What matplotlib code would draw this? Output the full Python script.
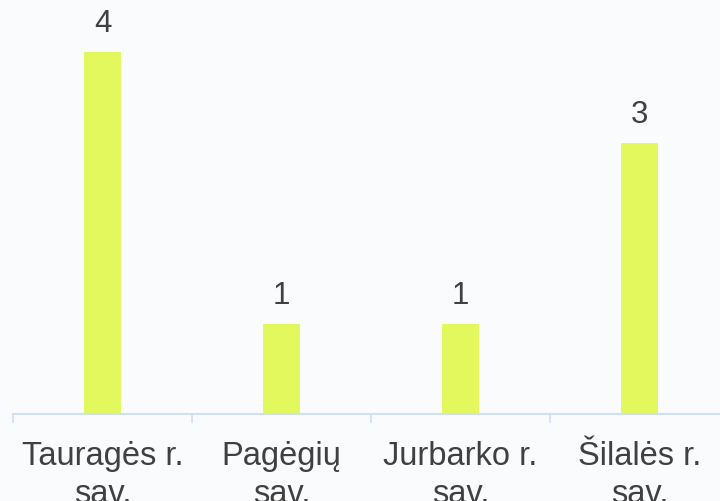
import matplotlib
matplotlib.use("Agg")
import matplotlib.pyplot as plt

categories = ["Tauragės r.\nsav.", "Pagėgių\nsav.", "Jurbarko r.\nsav.", "Šilalės r.\nsav."]
values = [4, 1, 1, 3]

bar_color = "#E2F85C"
text_color = "#404040"
axis_color = "#CFE0F2"
bg_color = "#FAFBFD"

plt.rcParams["font.family"] = ["Liberation Sans", "DejaVu Sans"]

fig = plt.figure(figsize=(7.2, 5.02), dpi=100, facecolor=bg_color)
# axes runs a little past the right edge, like the source
ax = fig.add_axes([13 / 720, 87 / 502, 716 / 720, 415 / 502])
ax.set_facecolor(bg_color)

x = list(range(len(categories)))
bars = ax.bar(x, values, width=0.207, color=bar_color, zorder=2)

for xi, v in zip(x, values):
    ax.annotate(str(v), (xi, v), xytext=(0, 10), textcoords="offset points",
                ha="center", va="bottom", fontsize=22.5, color=text_color)

ax.set_xlim(-0.5, 3.5)
ax.set_ylim(0, 4.586)
ax.set_xticks([i - 0.5 for i in x] + [3.5])
ax.set_xticklabels([])
ax.set_xticks(x, minor=True)
ax.set_xticklabels(categories, minor=True, fontsize=23.5, color=text_color,
                   linespacing=1.32)
ax.tick_params(axis="x", which="major", length=6.5, width=1.2, color=axis_color)
ax.tick_params(axis="x", which="minor", length=0, pad=18.5)
ax.set_yticks([])

for s in ["top", "right", "left"]:
    ax.spines[s].set_visible(False)
ax.spines["bottom"].set_color(axis_color)
ax.spines["bottom"].set_linewidth(1.5)

fig.savefig("out.png", dpi=100, facecolor=bg_color)
